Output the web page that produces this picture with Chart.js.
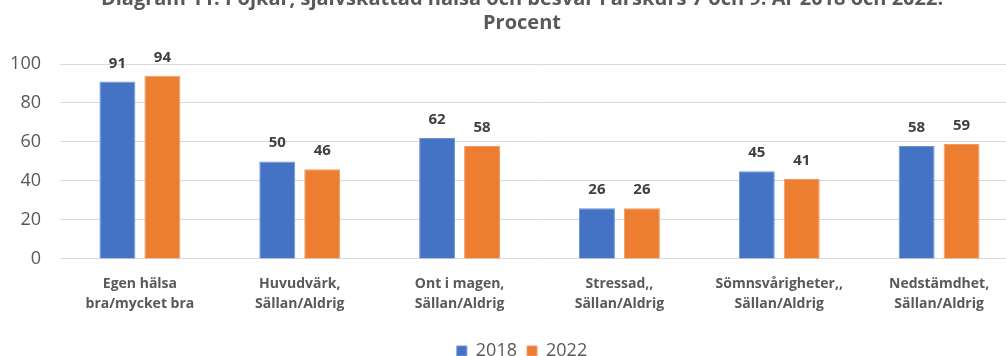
<!DOCTYPE html>
<html>
<head>
<meta charset="utf-8">
<script src="https://cdn.jsdelivr.net/npm/chart.js@4.4.1/dist/chart.umd.min.js"></script>
<style>
  html, body { margin: 0; padding: 0; background: #fff; overflow: hidden; }
  #wrap { position: absolute; left: 0; top: -20px; width: 1044px; height: 390px; }
</style>
</head>
<body>
<div id="wrap"><canvas id="c"></canvas></div>
<script>
const categories = [
  ['Egen hälsa', 'bra/mycket bra'],
  ['Huvudvärk,', 'Sällan/Aldrig'],
  ['Ont i magen,', 'Sällan/Aldrig'],
  ['Stressad,,', 'Sällan/Aldrig'],
  ['Sömnsvårigheter,,', 'Sällan/Aldrig'],
  ['Nedstämdhet,', 'Sällan/Aldrig']
];
const values2018 = [91, 50, 62, 26, 45, 58];
const values2022 = [94, 46, 58, 26, 41, 59];
const yTicks = [0, 20, 40, 60, 80, 100];
const titleLines = [
  'Diagram 11. Pojkar, självskattad hälsa och besvär i årskurs 7 och 9. År 2018 och 2022.',
  'Procent'
];

const FONT = '"Open Sans", Lato, sans-serif';

// Writes each bar's value above its top
const barValueLabels = {
  id: 'barValueLabels',
  afterDatasetsDraw(chart) {
    const ctx = chart.ctx;
    ctx.save();
    ctx.font = 'bold 15px ' + FONT;
    ctx.fillStyle = '#404040';
    ctx.textAlign = 'center';
    ctx.textBaseline = 'alphabetic';
    chart.data.datasets.forEach((ds, i) => {
      chart.getDatasetMeta(i).data.forEach((bar, j) => {
        ctx.fillText(String(ds.data[j]), bar.x, bar.y - 14);
      });
    });
    ctx.restore();
  }
};

new Chart(document.getElementById('c'), {
  type: 'bar',
  data: {
    labels: categories,
    datasets: [
      { label: '2018', data: values2018, backgroundColor: '#4472C4', borderColor: '#6E94D6', borderWidth: 1 },
      { label: '2022', data: values2022, backgroundColor: '#ED7D31', borderColor: '#F29A5E', borderWidth: 1 }
    ]
  },
  options: {
    responsive: true,
    maintainAspectRatio: false,
    animation: false,
    categoryPercentage: 0.5625,
    barPercentage: 0.8,
    layout: { padding: 0 },
    plugins: {
      title: {
        display: true,
        text: titleLines,
        color: '#595959',
        font: { family: FONT, size: 20, weight: 'bold', lineHeight: 1.2 },
        padding: { top: 7, bottom: 29 }
      },
      legend: {
        display: true,
        position: 'bottom',
        labels: {
          boxWidth: 10,
          boxHeight: 10,
          color: '#595959',
          font: { family: FONT, size: 18 },
          padding: 10
        }
      },
      tooltip: { enabled: false }
    },
    scales: {
      x: {
        afterFit(scale) { scale.height += 11; },
        grid: { display: false },
        border: { display: false },
        ticks: {
          color: '#595959',
          font: { family: FONT, size: 14, weight: 'bold', lineHeight: 1.43 },
          padding: 7,
          maxRotation: 0,
          autoSkip: false
        }
      },
      y: {
        min: 0,
        max: 100,
        afterFit(scale) { scale.width = 60; },
        afterBuildTicks(scale) { scale.ticks = yTicks.map(v => ({ value: v })); },
        grid: { color: '#D9D9D9', lineWidth: 1, drawTicks: false },
        border: { display: false },
        ticks: {
          color: '#595959',
          font: { family: FONT, size: 18 },
          padding: 19
        }
      },
      // empty right-hand margin beside the plot
      yRight: {
        position: 'right',
        display: true,
        afterFit(scale) { scale.width = 25; },
        grid: { display: false, drawOnChartArea: false },
        border: { display: false },
        ticks: { display: false }
      }
    }
  },
  plugins: [barValueLabels]
});
</script>
</body>
</html>
